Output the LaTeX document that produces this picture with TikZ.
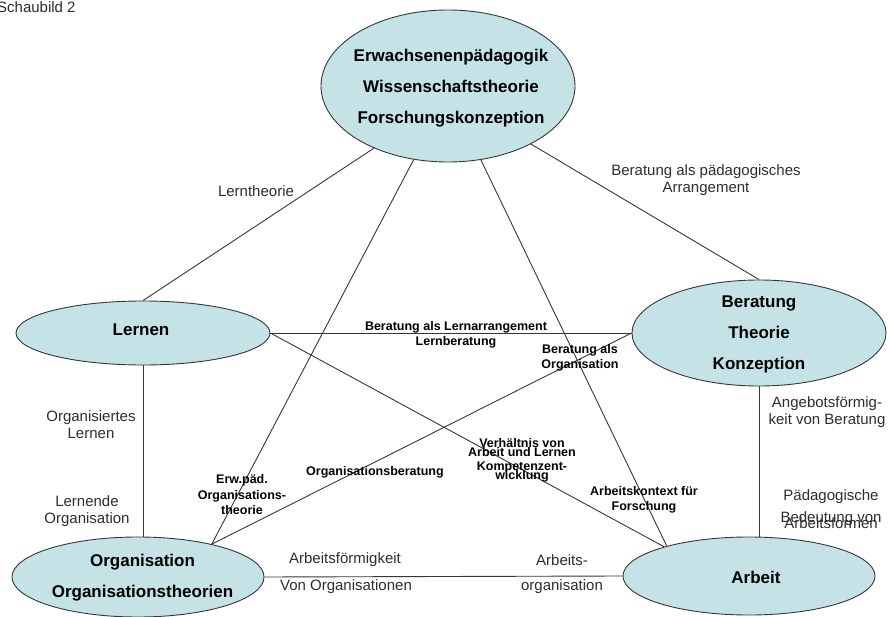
\documentclass[tikz,border=0pt]{standalone}
\usepackage{fontspec}
\setmainfont{Liberation Sans}
\usetikzlibrary{shapes.geometric}
\definecolor{bubblefill}{RGB}{197,227,231}
\definecolor{linegray}{RGB}{55,55,55}
\definecolor{labelgray}{RGB}{45,45,45}
\tikzset{
  bubble/.style={ellipse, draw=linegray, line width=0.9pt, fill=bubblefill, inner sep=0pt},
  conn/.style={draw=linegray, line width=0.9pt},
  ebig/.style={font=\bfseries\fontsize{17}{31}\selectfont, align=center, inner sep=0pt, text=black},
  lbl/.style={font=\fontsize{15}{17}\selectfont, align=center, inner sep=0pt, text=labelgray},
  blbl/.style={font=\bfseries\fontsize{12.5}{14}\selectfont, align=center, inner sep=0pt, text=black}
}
\begin{document}
\begin{tikzpicture}[x=1pt,y=-1pt]
\useasboundingbox (0,0) rectangle (889,617);

% ellipses
\node[bubble, minimum width=254pt, minimum height=152pt] (top) at (448,86) {};
\node[bubble, minimum width=254pt, minimum height=64pt] (lernen) at (143,333) {};
\node[bubble, minimum width=254pt, minimum height=106pt] (beratung) at (759,333) {};
\node[bubble, minimum width=252pt, minimum height=80pt] (org) at (138,577) {};
\node[bubble, minimum width=252pt, minimum height=78pt] (arbeit) at (749,576) {};

% ellipse texts
\node[ebig] (toptext) at (451,88) {Erwachsenenpädagogik\\Wissenschaftstheorie\\Forschungskonzeption};
\node[ebig] (lernentext) at (141,330) {Lernen};
\node[ebig] (beratungtext) at (759,334) {Beratung\\Theorie\\Konzeption};
\node[ebig] (orgtext) at (142.5,577.5) {Organisation\\Organisationstheorien};
\node[ebig] (arbeittext) at (756,577) {Arbeit};

% connectors
\draw[conn] (top.220) -- (lernen.north);
\draw[conn] (top.325) -- (beratung.north);
\draw[conn] (top.245) -- (org.24);
\draw[conn] (top.294) -- (arbeit.160);
\draw[conn] (lernen.east) -- (beratung.west);
\draw[conn] (lernen.east) -- (arbeit.161);
\draw[conn] (org.24) -- (beratung.west);
\draw[conn] (lernen.south) -- (lernen.south |- org.north);
\draw[conn] (org.east) -- (arbeit.west);
\draw[conn] (beratung.south) -- (beratung.south |- arbeit.north);

% title
\node[lbl, anchor=base west] (title) at (-3,13) {Schaubild 2};

% regular labels
\node[lbl] (l1) at (256,191) {Lerntheorie};
\node[lbl] (l2) at (706,180) {Beratung als pädagogisches\\Arrangement};
\node[lbl] (l3) at (91,425) {Organisiertes\\Lernen};
\node[lbl] (l4) at (87,511) {Lernende\\Organisation};
\node[lbl] (l5) at (345,560) {Arbeitsförmigkeit};
\node[lbl] (l6) at (346,587) {Von Organisationen};
\node[lbl] (l7) at (562,560) {Arbeits-};
\node[lbl] (l8) at (562,587) {organisation};
\node[lbl] (l9) at (827,412) {Angebotsförmig-\\keit von Beratung};
\node[lbl] (l10) at (831,509) {Pädagogische\\[5pt]Bedeutung von\\[-11pt]Arbeitsformen};

% small bold labels
\node[blbl] (b1) at (456,335) {Beratung als Lernarrangement\\[1pt]Lernberatung};
\node[blbl] (b2) at (580,358) {Beratung als\\[1pt]Organisation};
\node[blbl] (b3) at (522,448) {Verhältnis von\\[-5pt]Arbeit und Lernen};
\node[blbl] (b4) at (522,472) {Kompetenzent-\\[-5pt]wicklung};
\node[blbl] (b5) at (375,472) {Organisationsberatung};
\node[blbl, font=\bfseries\fontsize{12.5}{15.5}\selectfont] (b6) at (242,495) {Erw.päd.\\Organisations-\\theorie};
\node[blbl] (b7) at (644,500) {Arbeitskontext für\\[1pt]Forschung};
\end{tikzpicture}
\end{document}
